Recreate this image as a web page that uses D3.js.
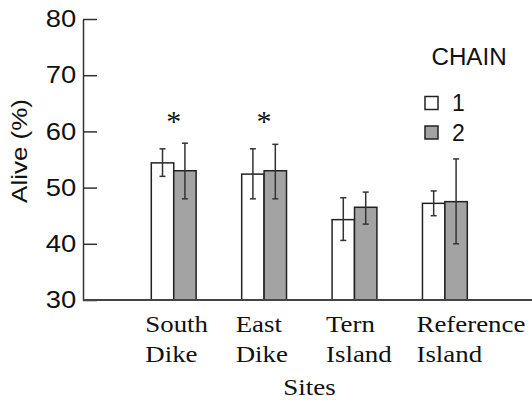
<!DOCTYPE html>
<html>
<head>
<meta charset="utf-8">
<script src="https://d3js.org/d3.v7.min.js"></script>
<style>
  body { margin: 0; background: #fff; }
  svg text { fill: #111; }
</style>
</head>
<body>
<div id="chart"></div>
<script>
// data
const sites = ["South Dike", "East Dike", "Tern Island", "Reference Island"];
const chains = ["1", "2"];
const chain1 = [54.4, 52.4, 44.3, 47.2];
const chain1Lo = [52.0, 48.0, 40.6, 45.0];
const chain1Hi = [56.9, 56.9, 48.2, 49.4];
const chain2 = [53.0, 53.0, 46.5, 47.5];
const chain2Lo = [48.0, 48.0, 43.5, 40.0];
const chain2Hi = [57.9, 57.7, 49.2, 55.1];
const starred = ["South Dike", "East Dike"];
const yTicks = [30, 40, 50, 60, 70, 80];

const width = 532, height = 403;
const stretch = 1.12; // text in the picture is a bit wide

const rows = [];
sites.forEach((s, i) => {
  rows.push({ site: s, chain: "1", v: chain1[i], lo: chain1Lo[i], hi: chain1Hi[i] });
  rows.push({ site: s, chain: "2", v: chain2[i], lo: chain2Lo[i], hi: chain2Hi[i] });
});

const svg = d3.select("#chart").append("svg")
  .attr("width", width)
  .attr("height", height);

const y = d3.scaleLinear().domain([30, 80]).range([300, 19]);
const x = d3.scaleBand().domain(sites).range([151.3, 467.3]).paddingInner(0.504).paddingOuter(0);
const xs = d3.scaleBand().domain(chains).range([0, x.bandwidth()]);
const fill = d3.scaleOrdinal().domain(chains).range(["#ffffff", "#a3a3a3"]);

// y axis, ticks pointing inward
const yAxis = svg.append("g")
  .attr("transform", "translate(83,0)")
  .call(d3.axisLeft(y).tickValues(yTicks).tickSizeInner(-14).tickSizeOuter(0).tickPadding(6));
yAxis.select(".domain").attr("stroke", "#333").attr("stroke-width", 1.5);
yAxis.selectAll(".tick line").attr("stroke", "#333").attr("stroke-width", 1.5);
yAxis.selectAll(".tick text")
  .attr("font-family", "Liberation Sans, Arial, sans-serif")
  .attr("font-size", 24)
  .attr("fill", "#111")
  .attr("transform", "scale(1.14,1)");

// bars
svg.append("g").selectAll("rect")
  .data(rows)
  .enter()
  .append("rect")
  .attr("x", d => x(d.site) + xs(d.chain))
  .attr("y", d => y(d.v))
  .attr("width", xs.bandwidth())
  .attr("height", d => y(30) - y(d.v))
  .attr("fill", d => fill(d.chain))
  .attr("stroke", "#222")
  .attr("stroke-width", 1.5);

// error bars
const err = svg.append("g").attr("stroke", "#333").attr("stroke-width", 1.5);
rows.forEach(d => {
  const cx = x(d.site) + xs(d.chain) + xs.bandwidth() / 2;
  err.append("line").attr("x1", cx).attr("x2", cx).attr("y1", y(d.lo)).attr("y2", y(d.hi));
  err.append("line").attr("x1", cx - 3).attr("x2", cx + 3).attr("y1", y(d.lo)).attr("y2", y(d.lo));
  err.append("line").attr("x1", cx - 3).attr("x2", cx + 3).attr("y1", y(d.hi)).attr("y2", y(d.hi));
});

// x axis line
svg.append("line")
  .attr("x1", 83).attr("x2", width)
  .attr("y1", y(30)).attr("y2", y(30))
  .attr("stroke", "#444").attr("stroke-width", 2);

// asterisks
svg.selectAll(".star")
  .data(starred)
  .enter()
  .append("text")
  .attr("class", "star")
  .attr("x", d => x(d) + x.bandwidth() / 2)
  .attr("y", 131)
  .attr("text-anchor", "middle")
  .attr("font-family", "Liberation Serif, Times New Roman, serif")
  .attr("font-size", 30)
  .attr("fill", "#333")
  .text("*");

// site labels, two lines, left aligned
const lab = svg.selectAll(".site")
  .data(sites)
  .enter()
  .append("text")
  .attr("class", "site")
  .attr("font-family", "Liberation Serif, Times New Roman, serif")
  .attr("font-size", 24)
  .attr("transform", d => `translate(${x(d) - 6},331.5) scale(${stretch},1)`);
lab.append("tspan").attr("x", 0).attr("y", 0).text(d => d.split(" ")[0]);
lab.append("tspan").attr("x", 0).attr("y", 31).text(d => d.split(" ")[1]);

svg.append("text")
  .attr("transform", `translate(309.5,395) scale(${stretch},1)`)
  .attr("text-anchor", "middle")
  .attr("font-family", "Liberation Serif, Times New Roman, serif")
  .attr("font-size", 24)
  .text("Sites");

// y title
svg.append("text")
  .attr("transform", "translate(27,151) rotate(-90) scale(1.18,1)")
  .attr("text-anchor", "middle")
  .attr("font-family", "Liberation Sans, Arial, sans-serif")
  .attr("font-size", 22)
  .text("Alive (%)");

// legend
svg.append("text")
  .attr("transform", "translate(431.5,65) scale(1.05,1)")
  .attr("font-family", "Liberation Sans, Arial, sans-serif")
  .attr("font-size", 23)
  .text("CHAIN");

const leg = svg.selectAll(".leg")
  .data(chains)
  .enter()
  .append("g")
  .attr("class", "leg")
  .attr("transform", (d, i) => `translate(425,${96.5 + i * 29.5})`);
leg.append("rect")
  .attr("width", 13).attr("height", 13)
  .attr("fill", d => fill(d))
  .attr("stroke", "#222").attr("stroke-width", 1.5);
leg.append("text")
  .attr("x", 27).attr("y", 14.5)
  .attr("font-family", "Liberation Sans, Arial, sans-serif")
  .attr("font-size", 23)
  .text(d => d);
</script>
</body>
</html>
